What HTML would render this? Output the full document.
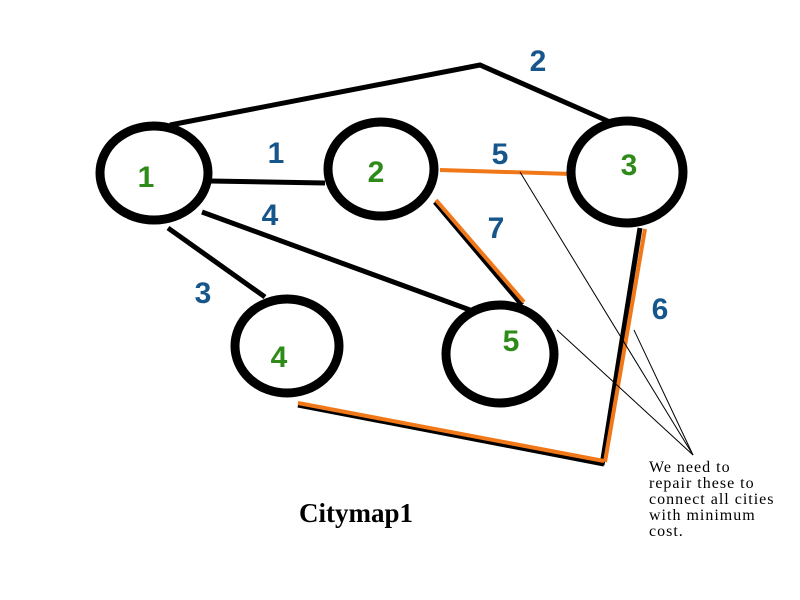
<!DOCTYPE html>
<html><head><style>body{margin:0;background:#fff}svg{display:block}</style></head><body>
<svg width="800" height="600" viewBox="0 0 800 600" xmlns="http://www.w3.org/2000/svg">
<g stroke="#000" stroke-width="5" fill="none">
<polyline points="170,125 480,65 610,122"/>
<line x1="210" y1="181" x2="325" y2="183"/>
<line x1="202" y1="212" x2="470" y2="310"/>
<line x1="168" y1="228" x2="265" y2="297"/>
<line x1="435" y1="202" x2="522" y2="305"/>
<line x1="640" y1="228" x2="602" y2="465"/>
<line x1="298" y1="405" x2="604" y2="464"/>
</g>
<g stroke="#f07818" stroke-width="4" fill="none">
<line x1="440" y1="170" x2="572" y2="174"/>
<line x1="436" y1="200" x2="524" y2="302"/>
<line x1="645" y1="229" x2="605" y2="462"/>
<polyline points="298,403 604,461"/>
</g>
<g stroke="#000" stroke-width="1" fill="none">
<line x1="520" y1="172" x2="693" y2="455"/>
<line x1="557" y1="330" x2="693" y2="455"/>
<line x1="634" y1="330" x2="693" y2="455"/>
</g>
<g stroke="#000" stroke-width="9" fill="#fff">
<ellipse cx="154" cy="173" rx="54" ry="47"/>
<ellipse cx="381" cy="169" rx="53" ry="47"/>
<ellipse cx="627" cy="172" rx="56" ry="51"/>
<ellipse cx="287" cy="346" rx="52" ry="47"/>
<ellipse cx="500" cy="354" rx="54" ry="49"/>
</g>
<g font-family="Liberation Sans, sans-serif" font-weight="bold" font-size="30" fill="#2e8b1a" text-anchor="middle">
<text x="146" y="187">1</text>
<text x="376" y="182">2</text>
<text x="629" y="175">3</text>
<text x="279" y="367">4</text>
<text x="511" y="351">5</text>
</g>
<g font-family="Liberation Sans, sans-serif" font-weight="bold" font-size="30" fill="#17568a" text-anchor="middle">
<text x="538" y="71">2</text>
<text x="276" y="163">1</text>
<text x="500" y="164">5</text>
<text x="270" y="225">4</text>
<text x="496" y="238">7</text>
<text x="203" y="303">3</text>
<text x="660" y="319">6</text>
</g>
<text x="299" y="522" font-family="Liberation Serif, serif" font-weight="bold" font-size="27" fill="#000">Citymap1</text>
<g font-family="Liberation Serif, serif" font-size="16" letter-spacing="1" fill="#000">
<text x="649" y="472">We need to</text>
<text x="649" y="488">repair these to</text>
<text x="649" y="504">connect all cities</text>
<text x="649" y="520">with minimum</text>
<text x="649" y="536">cost.</text>
</g>
</svg>
</body></html>
